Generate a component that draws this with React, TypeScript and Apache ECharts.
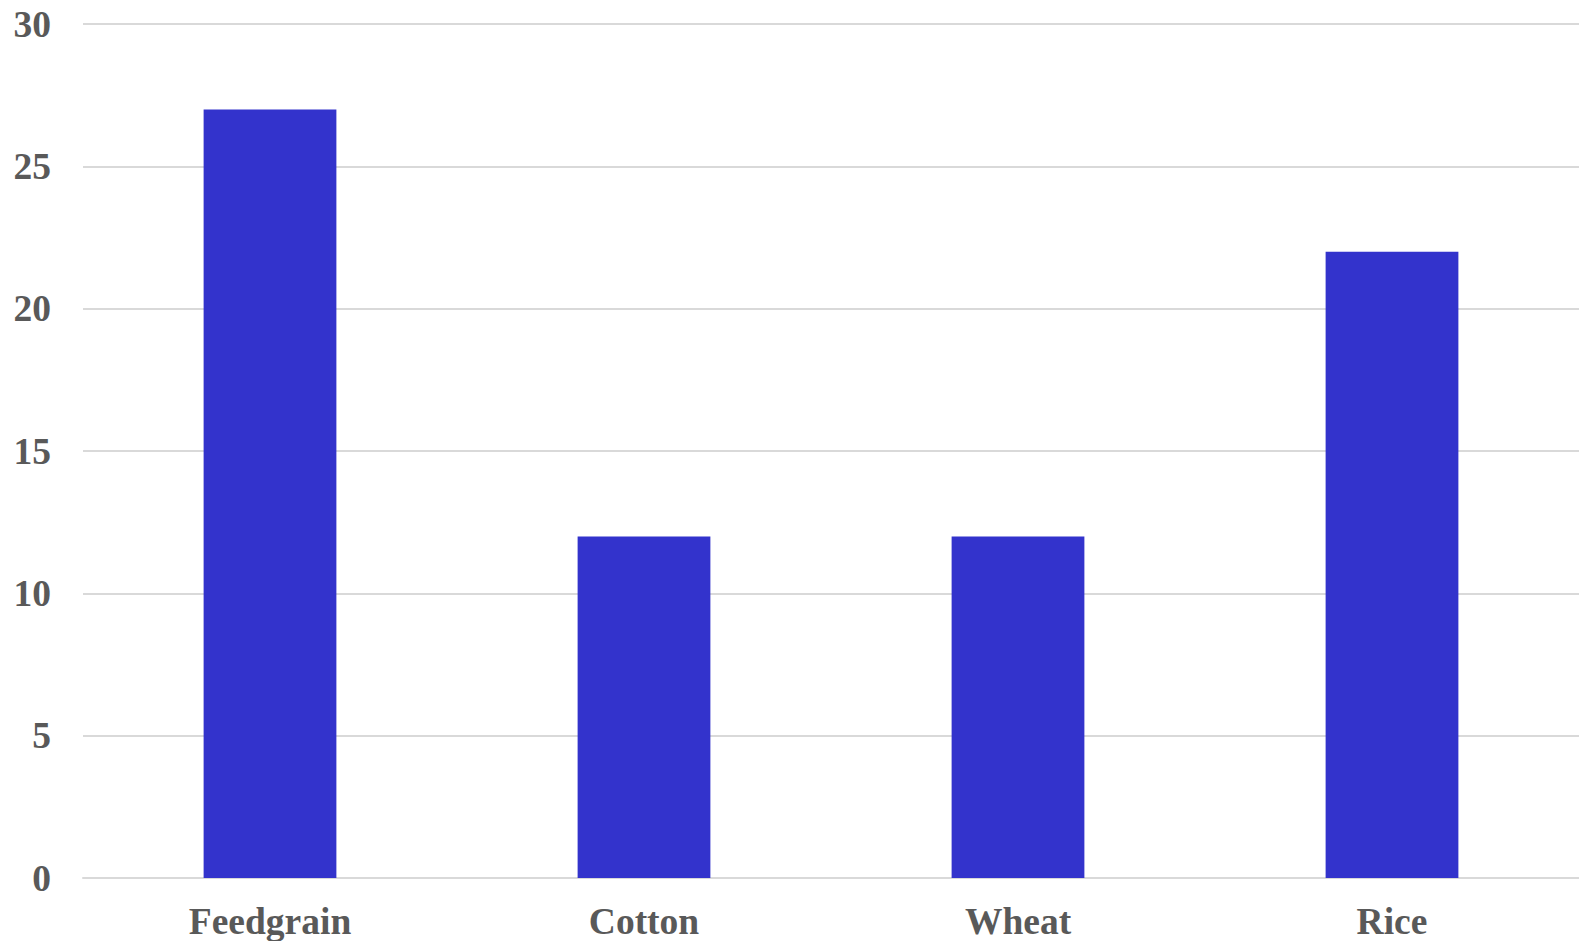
import React, { useEffect, useRef } from "react";
import * as echarts from "echarts";

const categories = ["Feedgrain", "Cotton", "Wheat", "Rice"];
const values = [27, 12, 12, 22];
const yTicks = { min: 0, max: 30, interval: 5 };

export default function App() {
  const ref = useRef<HTMLDivElement>(null);
  useEffect(() => {
    const chart = echarts.init(ref.current!, null, { renderer: "svg" });
    const font = "'Liberation Serif', 'Times New Roman', serif";
    chart.setOption({
      animation: false,
      backgroundColor: "#ffffff",
      grid: { left: 83, right: 0, top: 24, bottom: 63, containLabel: false },
      xAxis: {
        type: "category",
        data: categories,
        axisLine: { show: true, lineStyle: { color: "#d9d9d9", width: 2 } },
        axisTick: { show: false },
        axisLabel: {
          color: "#595959",
          fontFamily: font,
          fontWeight: "bold",
          fontSize: 37.5,
          margin: 24,
        },
      },
      yAxis: {
        type: "value",
        min: yTicks.min,
        max: yTicks.max,
        interval: yTicks.interval,
        axisLine: { show: false },
        axisTick: { show: false },
        splitLine: { lineStyle: { color: "#d9d9d9", width: 2 } },
        axisLabel: {
          color: "#595959",
          fontFamily: font,
          fontWeight: "bold",
          fontSize: 37.5,
          margin: 32,
        },
      },
      series: [
        {
          type: "bar",
          data: values,
          barWidth: "35.5%",
          itemStyle: { color: "#3333cc" },
        },
      ],
    });
    const onResize = () => chart.resize();
    window.addEventListener("resize", onResize);
    return () => {
      window.removeEventListener("resize", onResize);
      chart.dispose();
    };
  }, []);
  return (
    <div
      ref={ref}
      style={{ position: "fixed", left: 0, top: 0, width: "100vw", height: "100vh" }}
    />
  );
}
